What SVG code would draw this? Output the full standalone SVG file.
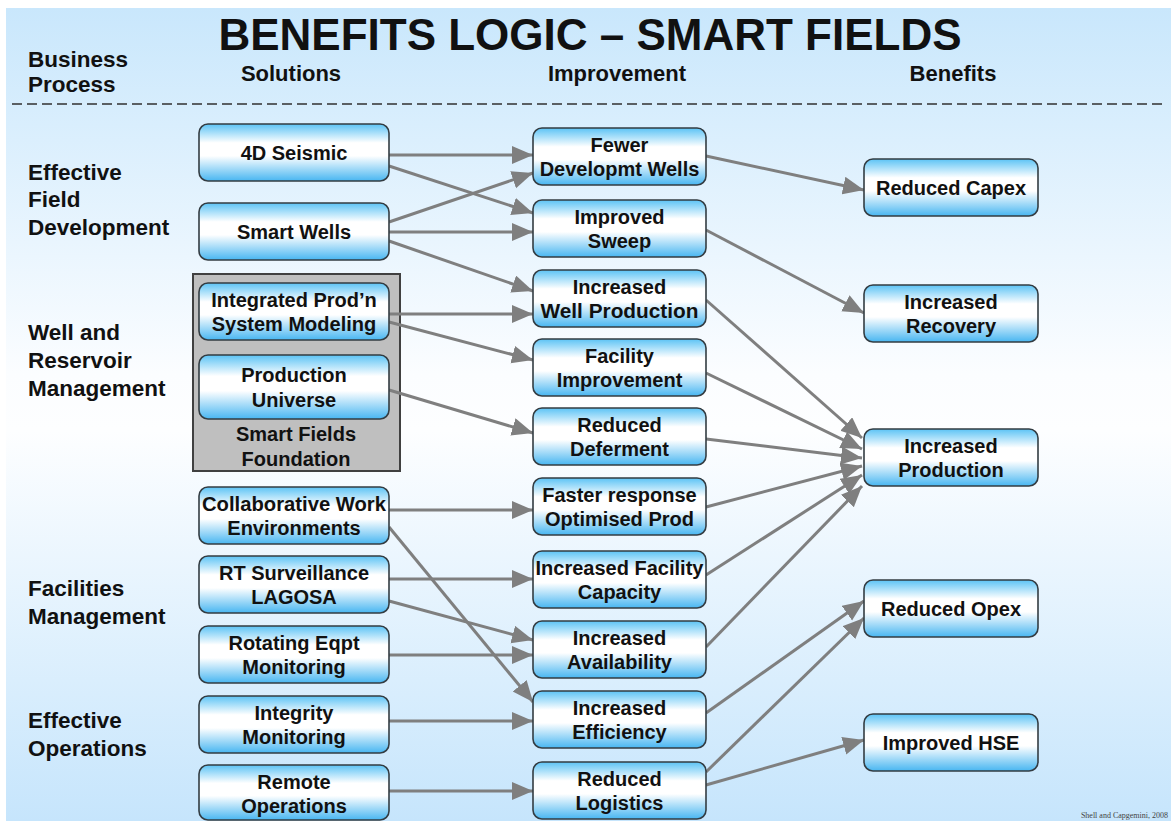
<svg xmlns="http://www.w3.org/2000/svg" width="1171" height="821" viewBox="0 0 1171 821">
<defs>
<linearGradient id="bg" x1="0" y1="0" x2="0" y2="1">
<stop offset="0" stop-color="#c9e7fc"/>
<stop offset="0.45" stop-color="#fbfdff"/>
<stop offset="0.52" stop-color="#fdfeff"/>
<stop offset="1" stop-color="#c6e5fc"/>
</linearGradient>
<linearGradient id="ng" x1="0" y1="0" x2="0" y2="1">
<stop offset="0" stop-color="#5cc3f5"/>
<stop offset="0.33" stop-color="#ffffff"/>
<stop offset="0.56" stop-color="#ffffff"/>
<stop offset="1" stop-color="#48b6f1"/>
</linearGradient>
<marker id="ah" markerUnits="userSpaceOnUse" markerWidth="22" markerHeight="19" refX="21" refY="9" orient="auto" viewBox="0 0 22 19">
<path d="M0,0 L21,9 L0,18 z" fill="#7f7f7f"/>
</marker>
</defs>
<style>
.node rect{fill:url(#ng);stroke:#333c42;stroke-width:1.6}
.t{font-family:"Liberation Sans",Arial,sans-serif;font-weight:bold;fill:#111}
.nt{font-size:20px;text-anchor:middle}
.hd{font-size:22px;text-anchor:middle}
.lb{font-size:22.5px}
#connectors line{stroke:#7f7f7f;stroke-width:3;marker-end:url(#ah)}
</style>
<rect x="6" y="8" width="1165" height="813" fill="url(#bg)"/>
<text class="t" x="590" y="50" font-size="44" text-anchor="middle">BENEFITS LOGIC – SMART FIELDS</text>
<g id="headers">
<text class="t lb" x="28" y="67">Business</text>
<text class="t lb" x="28" y="92">Process</text>
<text class="t hd" x="291" y="81">Solutions</text>
<text class="t hd" x="617" y="81">Improvement</text>
<text class="t hd" x="953" y="81">Benefits</text>
</g>
<line x1="12" y1="104" x2="1162" y2="104" stroke="#5a5f63" stroke-width="2" stroke-dasharray="10 5"/>
<g id="process-labels">
<text class="t lb" x="28" y="180">Effective</text>
<text class="t lb" x="28" y="207">Field</text>
<text class="t lb" x="28" y="235">Development</text>
<text class="t lb" x="28" y="340">Well and</text>
<text class="t lb" x="28" y="368">Reservoir</text>
<text class="t lb" x="28" y="396">Management</text>
<text class="t lb" x="28" y="596">Facilities</text>
<text class="t lb" x="28" y="624">Management</text>
<text class="t lb" x="28" y="728">Effective</text>
<text class="t lb" x="28" y="756">Operations</text>
</g>
<g id="foundation">
<rect x="193" y="274" width="207" height="197" fill="#bfbfbf" stroke="#404040" stroke-width="2"/>
<text class="t nt" x="296" y="441">Smart Fields</text>
<text class="t nt" x="296" y="466">Foundation</text>
</g>
<g id="connectors">
<line x1="389" y1="155" x2="533" y2="155"/>
<line x1="389" y1="166" x2="533" y2="213"/>
<line x1="389" y1="222" x2="533" y2="173"/>
<line x1="389" y1="232" x2="533" y2="232"/>
<line x1="389" y1="241" x2="533" y2="291"/>
<line x1="389" y1="314" x2="533" y2="314"/>
<line x1="389" y1="322" x2="533" y2="360"/>
<line x1="389" y1="390" x2="533" y2="433"/>
<line x1="389" y1="510" x2="533" y2="510"/>
<line x1="389" y1="527" x2="533" y2="702"/>
<line x1="389" y1="579" x2="533" y2="579"/>
<line x1="389" y1="601" x2="533" y2="640"/>
<line x1="389" y1="655" x2="533" y2="655"/>
<line x1="389" y1="721" x2="533" y2="721"/>
<line x1="389" y1="791" x2="533" y2="791"/>
<line x1="706" y1="156" x2="864" y2="190"/>
<line x1="706" y1="230" x2="864" y2="313"/>
<line x1="706" y1="300" x2="862" y2="438"/>
<line x1="706" y1="373" x2="862" y2="449"/>
<line x1="706" y1="439" x2="862" y2="458"/>
<line x1="706" y1="507" x2="862" y2="466"/>
<line x1="706" y1="575" x2="862" y2="475"/>
<line x1="706" y1="647" x2="862" y2="486"/>
<line x1="706" y1="713" x2="864" y2="601"/>
<line x1="706" y1="772" x2="864" y2="618"/>
<line x1="706" y1="785" x2="864" y2="740"/>
</g>
<g id="s1" class="node"><rect x="199" y="124" width="190" height="57" rx="9"/><text class="t nt" x="294" y="159.5">4D Seismic</text></g>
<g id="s2" class="node"><rect x="199" y="203" width="190" height="57" rx="9"/><text class="t nt" x="294" y="238.5">Smart Wells</text></g>
<g id="s3" class="node"><rect x="199" y="283" width="190" height="57" rx="9"/><text class="t nt" x="294" y="306.5">Integrated Prod’n</text><text class="t nt" x="294" y="331">System Modeling</text></g>
<g id="s4" class="node"><rect x="199" y="355" width="190" height="64" rx="9"/><text class="t nt" x="294" y="382">Production</text><text class="t nt" x="294" y="407">Universe</text></g>
<g id="s5" class="node"><rect x="199" y="487" width="190" height="57" rx="9"/><text class="t nt" x="294" y="510.5" textLength="184" lengthAdjust="spacingAndGlyphs">Collaborative Work</text><text class="t nt" x="294" y="535">Environments</text></g>
<g id="s6" class="node"><rect x="199" y="556" width="190" height="57" rx="9"/><text class="t nt" x="294" y="579.5">RT Surveillance</text><text class="t nt" x="294" y="604">LAGOSA</text></g>
<g id="s7" class="node"><rect x="199" y="626" width="190" height="57" rx="9"/><text class="t nt" x="294" y="649.5">Rotating Eqpt</text><text class="t nt" x="294" y="674">Monitoring</text></g>
<g id="s8" class="node"><rect x="199" y="696" width="190" height="57" rx="9"/><text class="t nt" x="294" y="719.5">Integrity</text><text class="t nt" x="294" y="744">Monitoring</text></g>
<g id="s9" class="node"><rect x="199" y="765" width="190" height="55" rx="9"/><text class="t nt" x="294" y="788.5">Remote</text><text class="t nt" x="294" y="813">Operations</text></g>
<g id="i1" class="node"><rect x="533" y="128" width="173" height="57" rx="9"/><text class="t nt" x="619.5" y="151.5">Fewer</text><text class="t nt" x="619.5" y="176">Developmt Wells</text></g>
<g id="i2" class="node"><rect x="533" y="200" width="173" height="57" rx="9"/><text class="t nt" x="619.5" y="223.5">Improved</text><text class="t nt" x="619.5" y="248">Sweep</text></g>
<g id="i3" class="node"><rect x="533" y="270" width="173" height="57" rx="9"/><text class="t nt" x="619.5" y="293.5">Increased</text><text class="t nt" x="619.5" y="318" textLength="158" lengthAdjust="spacingAndGlyphs">Well Production</text></g>
<g id="i4" class="node"><rect x="533" y="339" width="173" height="57" rx="9"/><text class="t nt" x="619.5" y="362.5">Facility</text><text class="t nt" x="619.5" y="387">Improvement</text></g>
<g id="i5" class="node"><rect x="533" y="408" width="173" height="57" rx="9"/><text class="t nt" x="619.5" y="431.5">Reduced</text><text class="t nt" x="619.5" y="456">Deferment</text></g>
<g id="i6" class="node"><rect x="533" y="478" width="173" height="57" rx="9"/><text class="t nt" x="619.5" y="501.5">Faster response</text><text class="t nt" x="619.5" y="526">Optimised Prod</text></g>
<g id="i7" class="node"><rect x="533" y="551" width="173" height="57" rx="9"/><text class="t nt" x="619.5" y="574.5">Increased Facility</text><text class="t nt" x="619.5" y="599">Capacity</text></g>
<g id="i8" class="node"><rect x="533" y="621" width="173" height="57" rx="9"/><text class="t nt" x="619.5" y="644.5">Increased</text><text class="t nt" x="619.5" y="669">Availability</text></g>
<g id="i9" class="node"><rect x="533" y="691" width="173" height="57" rx="9"/><text class="t nt" x="619.5" y="714.5">Increased</text><text class="t nt" x="619.5" y="739">Efficiency</text></g>
<g id="i10" class="node"><rect x="533" y="762" width="173" height="57" rx="9"/><text class="t nt" x="619.5" y="785.5">Reduced</text><text class="t nt" x="619.5" y="810">Logistics</text></g>
<g id="b1" class="node"><rect x="864" y="159" width="174" height="57" rx="9"/><text class="t nt" x="951" y="194.5">Reduced Capex</text></g>
<g id="b2" class="node"><rect x="864" y="285" width="174" height="57" rx="9"/><text class="t nt" x="951" y="308.5">Increased</text><text class="t nt" x="951" y="333">Recovery</text></g>
<g id="b3" class="node"><rect x="864" y="429" width="174" height="57" rx="9"/><text class="t nt" x="951" y="452.5">Increased</text><text class="t nt" x="951" y="477">Production</text></g>
<g id="b4" class="node"><rect x="864" y="580" width="174" height="57" rx="9"/><text class="t nt" x="951" y="615.5">Reduced Opex</text></g>
<g id="b5" class="node"><rect x="864" y="714" width="174" height="57" rx="9"/><text class="t nt" x="951" y="749.5">Improved HSE</text></g>
<text x="1168" y="818" font-family="Liberation Serif,serif" font-size="8" fill="#444" text-anchor="end">Shell and Capgemini, 2008</text>
</svg>
